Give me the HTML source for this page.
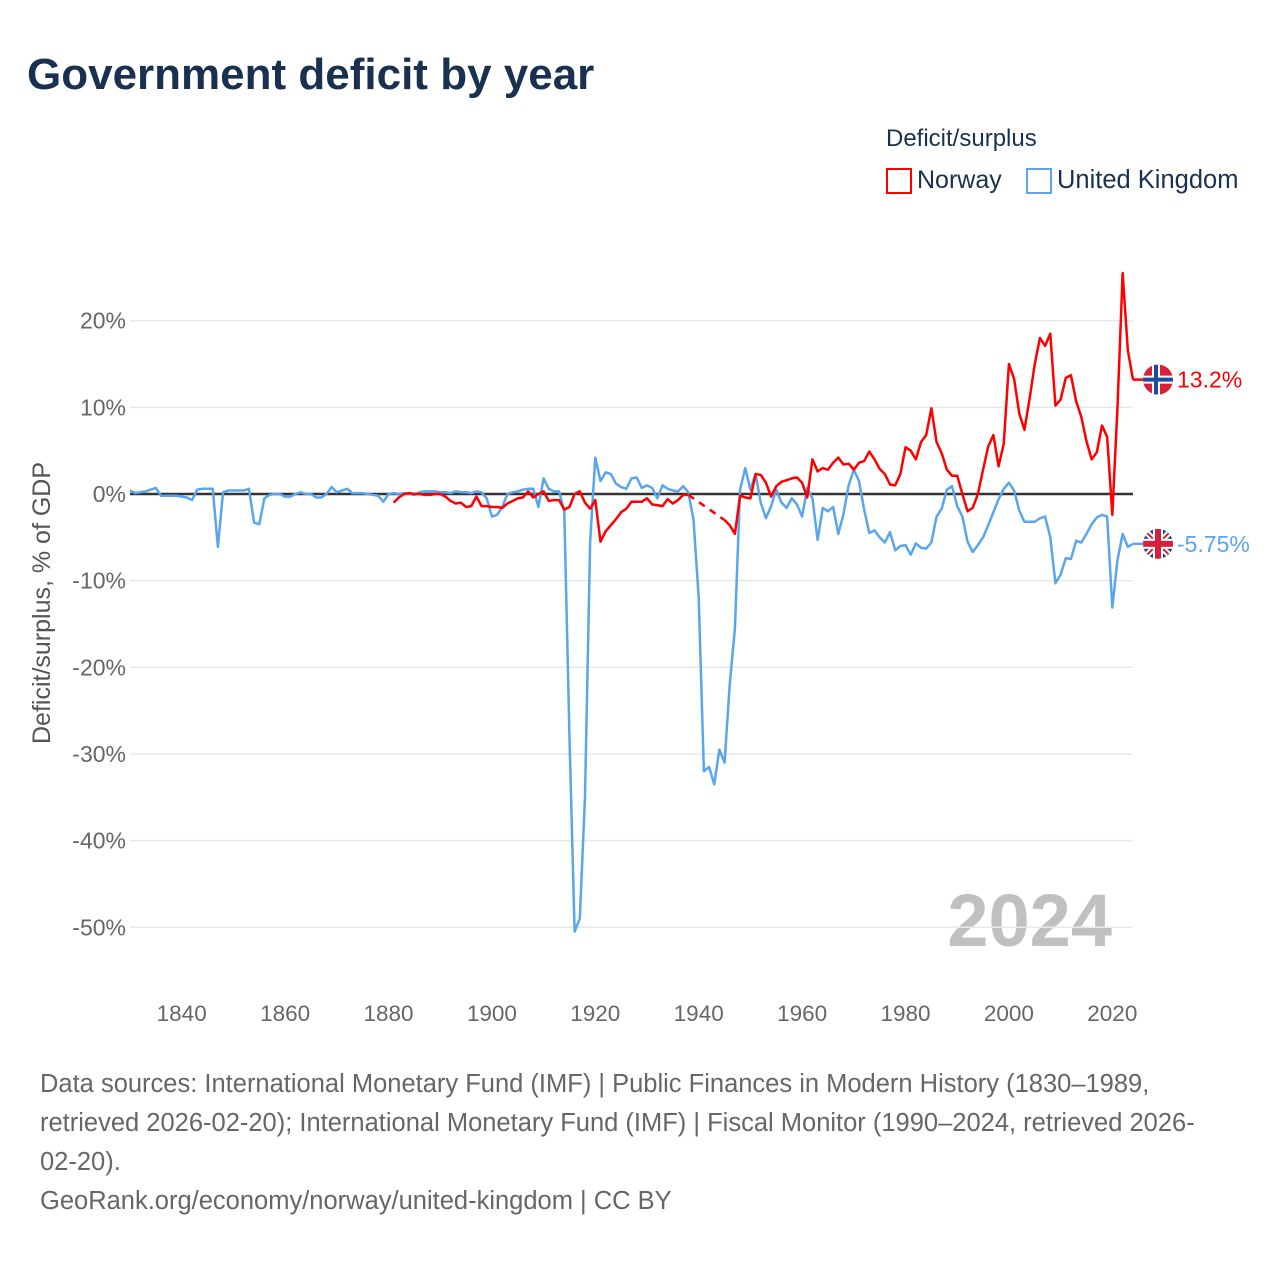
<!DOCTYPE html>
<html><head><meta charset="utf-8">
<style>
body{margin:0;background:#fff;font-family:"Liberation Sans",sans-serif;}
#wrap{position:relative;width:1280px;height:1280px;overflow:hidden;}
.t{position:absolute;white-space:nowrap;}
</style></head><body>
<div id="wrap">
<div class="t" style="left:27px;top:50px;font-size:44px;font-weight:bold;color:#1a3050;">Government deficit by year</div>
<div class="t" style="left:886px;top:125px;font-size:24px;color:#1a3050;">Deficit/surplus</div>
<div style="position:absolute;left:886px;top:168px;">
  <div style="position:absolute;left:0;top:0;width:22px;height:22px;border:2px solid #ff0000;"></div>
  <div class="t" style="left:31px;top:-2px;font-size:25px;color:#1a3050;">Norway</div>
</div>
<div style="position:absolute;left:1026px;top:168px;">
  <div style="position:absolute;left:0;top:0;width:22px;height:22px;border:2px solid #5aa5ec;"></div>
  <div class="t" style="left:31px;top:-2px;font-size:25.5px;color:#1a3050;">United Kingdom</div>
</div>
<svg id="chart" width="1280" height="1280" style="position:absolute;left:0;top:0;" xmlns="http://www.w3.org/2000/svg">
  <text transform="translate(50,603) rotate(-90)" text-anchor="middle" font-size="25" fill="#555" font-family="Liberation Sans, sans-serif">Deficit/surplus, % of GDP</text>
  <text x="1112" y="946" text-anchor="end" font-size="74" font-weight="bold" fill="#c0c0c0" font-family="Liberation Sans, sans-serif">2024</text>
</svg>
<div class="t" style="left:40px;top:1065px;font-size:25.5px;color:#666;line-height:39px;">Data sources: International Monetary Fund (IMF) | Public Finances in Modern History (1830–1989,<br>retrieved 2026-02-20); International Monetary Fund (IMF) | Fiscal Monitor (1990–2024, retrieved 2026-<br>02-20).<br>GeoRank.org/economy/norway/united-kingdom | CC BY</div>
</div>
<script>
const ukStart = 1830;
const ukValues = [
0.4,0.1,0.2,0.3,0.5,0.7,-0.2,-0.2,-0.2,-0.2,
-0.3,-0.4,-0.7,0.5,0.6,0.6,0.6,-6.1,0.2,0.4,
0.4,0.4,0.4,0.6,-3.3,-3.5,-0.5,-0.1,0,0,
-0.3,-0.3,0,0.2,0,0,-0.4,-0.4,0,0.8,
0.2,0.4,0.6,0.1,0.1,0.1,0,-0.1,-0.2,-0.9,
0,0.1,0,0.1,0,-0.1,0.2,0.3,0.3,0.3,
0.2,0.2,0.1,0.3,0.2,0.2,0.1,0.3,0.2,-0.5,
-2.6,-2.4,-1.5,0,0.2,0.3,0.5,0.6,0.6,-1.5,
1.8,0.6,0.3,0.3,-2,-28,-50.5,-49,-35,-5.5,
4.2,1.5,2.5,2.3,1.2,0.8,0.6,1.8,1.9,0.7,
1.0,0.7,-0.5,1.0,0.6,0.4,0.3,0.9,0.2,-3,
-12,-32,-31.5,-33.5,-29.5,-31,-22,-15.5,0.5,3,
0.5,2.3,-1,-2.8,-1.4,0.5,-1,-1.6,-0.5,-1.2,
-2.6,0.7,-0.5,-5.3,-1.6,-2,-1.5,-4.6,-2.3,1.0,
2.8,1.5,-1.8,-4.5,-4.2,-5.0,-5.6,-4.4,-6.5,-6.0,
-5.9,-7.0,-5.7,-6.2,-6.3,-5.6,-2.6,-1.7,0.5,0.9,
-1.4,-2.6,-5.5,-6.7,-5.9,-5.0,-3.6,-2.1,-0.6,0.6,
1.3,0.4,-1.9,-3.2,-3.2,-3.2,-2.8,-2.6,-5.0,-10.3,
-9.3,-7.4,-7.5,-5.4,-5.6,-4.6,-3.5,-2.7,-2.4,-2.6,
-13.1,-7.6,-4.6,-6.1,-5.75];
const norwayStart = 1881;
const norwayValues = [
-1.0,-0.4,0,0.1,0,0,-0.1,-0.1,0,0,
-0.3,-0.8,-1.1,-1.0,-1.5,-1.4,-0.3,-1.4,-1.4,-1.5,
-1.5,-1.6,-1.1,-0.8,-0.5,-0.4,0.3,-0.4,0,0.3,
-0.8,-0.7,-0.7,-1.8,-1.5,0,0.3,-1.0,-1.7,-0.7,
-5.5,-4.3,-3.6,-2.9,-2.1,-1.7,-0.9,-0.9,-0.9,-0.5,
-1.2,-1.3,-1.4,-0.6,-1.1,-0.7,-0.1,-0.1,null,null,
null,null,null,null,-3.0,-3.6,-4.6,-0.2,-0.4,-0.5,
2.3,2.2,1.3,-0.3,0.9,1.4,1.6,1.8,1.9,1.3,
-0.4,4.0,2.6,3.0,2.8,3.6,4.2,3.4,3.5,2.8,
3.6,3.8,4.9,4.0,2.9,2.3,1.1,1.0,2.3,5.4,
5.0,4.0,6.0,6.8,9.9,6.0,4.7,2.8,2.1,2.1,
0,-2.0,-1.6,0,2.8,5.5,6.8,3.2,5.8,15,
13.3,9.3,7.4,11,15,18,17.1,18.5,10.2,10.9,
13.4,13.7,10.7,8.9,6.1,4.0,4.8,7.9,6.6,-2.4,
10,25.5,16.6,13.2];
const yTicks = [20,10,0,-10,-20,-30,-40,-50];
const yTickLabels = ["20%","10%","0%","-10%","-20%","-30%","-40%","-50%"];
const xTicks = [1840,1860,1880,1900,1920,1940,1960,1980,2000,2020];
const endLabels = ["13.2%","-5.75%"];

const NS="http://www.w3.org/2000/svg";
const svg=document.getElementById('chart');
const X0=130, X1=1133, Y0=1830, Y1=2024;
const x=yr=>X0+(yr-Y0)*(X1-X0)/(Y1-Y0);
const y=v=>494-v*8.665;
function mk(tag,attrs){const e=document.createElementNS(NS,tag);for(const k in attrs)e.setAttribute(k,attrs[k]);svg.appendChild(e);return e;}
yTicks.forEach((v,i)=>{
  if(v!==0){const g=mk('line',{x1:X0,x2:X1,y1:y(v),y2:y(v),stroke:'#e8e8e8','stroke-width':1.5});
  
  }
  const t=mk('text',{x:126,y:y(v)+8,'text-anchor':'end','font-size':23,fill:'#666','font-family':'Liberation Sans, sans-serif'});
  t.textContent=yTickLabels[i];
  
  
});
xTicks.forEach(yr=>{
  const t=mk('text',{x:x(yr),y:1021,'text-anchor':'middle','font-size':22.5,fill:'#666','font-family':'Liberation Sans, sans-serif'});
  t.textContent=yr;
  
  
});
const zl=mk('line',{x1:X0,x2:X1,y1:y(0),y2:y(0),stroke:'#333','stroke-width':2.5});


function series(start,vals,color,name){
  let segs=[],cur=[],lastPt=null,gaps=[];
  vals.forEach((v,i)=>{
    if(v===null){if(cur.length){segs.push(cur);cur=[];}return;}
    const p=[x(start+i),y(v)];
    if(!cur.length&&lastPt&&segs.length&&vals[i-1]===null)gaps.push([lastPt,p]);
    cur.push(p);lastPt=p;
  });
  if(cur.length)segs.push(cur);
  segs.forEach(s=>{
    const pl=mk('polyline',{points:s.map(p=>p.join(',')).join(' '),fill:'none',stroke:color,'stroke-width':2.5,'stroke-linejoin':'round'});
    
    
  });
  gaps.forEach(g=>{
    const l=mk('line',{x1:g[0][0],y1:g[0][1],x2:g[1][0],y2:g[1][1],stroke:color,'stroke-width':2.5,'stroke-dasharray':'7,6'});
    
    
  });
  return lastPt;
}
const ukEnd=series(ukStart,ukValues,'#5aa5ec','uk');
const noEnd=series(norwayStart,norwayValues,'#ff0000','norway');
function endLabel(pt,color,label,name,flag){
  const c=mk('line',{x1:pt[0],y1:pt[1],x2:1145,y2:pt[1],stroke:color,'stroke-width':2.5});
  
  
  const g=document.createElementNS(NS,'g');svg.appendChild(g);
  
  
  g.innerHTML=flag(1158,pt[1]);
  const t=mk('text',{x:1177,y:pt[1]+8,'font-size':23,fill:color,'font-family':'Liberation Sans, sans-serif'});
  t.textContent=label;
  
  
}
const noFlag=(cx,cy)=>`<defs><clipPath id="cn"><circle cx="${cx}" cy="${cy}" r="15"/></clipPath></defs><g clip-path="url(#cn)"><rect x="${cx-15}" y="${cy-15}" width="30" height="30" fill="#d7203a"/><rect x="${cx-6}" y="${cy-15}" width="8" height="30" fill="#fff"/><rect x="${cx-15}" y="${cy-4}" width="30" height="8" fill="#fff"/><rect x="${cx-4}" y="${cy-15}" width="4" height="30" fill="#1f4aa0"/><rect x="${cx-15}" y="${cy-2}" width="30" height="4" fill="#1f4aa0"/></g>`;
const ukFlag=(cx,cy)=>`<defs><clipPath id="cu"><circle cx="${cx}" cy="${cy}" r="15"/></clipPath></defs><g clip-path="url(#cu)"><rect x="${cx-15}" y="${cy-15}" width="30" height="30" fill="#1f3f8f"/><line x1="${cx-15}" y1="${cy-15}" x2="${cx+15}" y2="${cy+15}" stroke="#fff" stroke-width="6"/><line x1="${cx+15}" y1="${cy-15}" x2="${cx-15}" y2="${cy+15}" stroke="#fff" stroke-width="6"/><line x1="${cx-15}" y1="${cy-15}" x2="${cx+15}" y2="${cy+15}" stroke="#d7203a" stroke-width="2"/><line x1="${cx+15}" y1="${cy-15}" x2="${cx-15}" y2="${cy+15}" stroke="#d7203a" stroke-width="2"/><rect x="${cx-5}" y="${cy-15}" width="10" height="30" fill="#fff"/><rect x="${cx-15}" y="${cy-5}" width="30" height="10" fill="#fff"/><rect x="${cx-3}" y="${cy-15}" width="6" height="30" fill="#d7203a"/><rect x="${cx-15}" y="${cy-3}" width="30" height="6" fill="#d7203a"/></g>`;
endLabel(noEnd,'#ff0000',endLabels[0],'norway',noFlag);
endLabel(ukEnd,'#5aa5ec',endLabels[1],'uk',ukFlag);
</script>
</body></html>
